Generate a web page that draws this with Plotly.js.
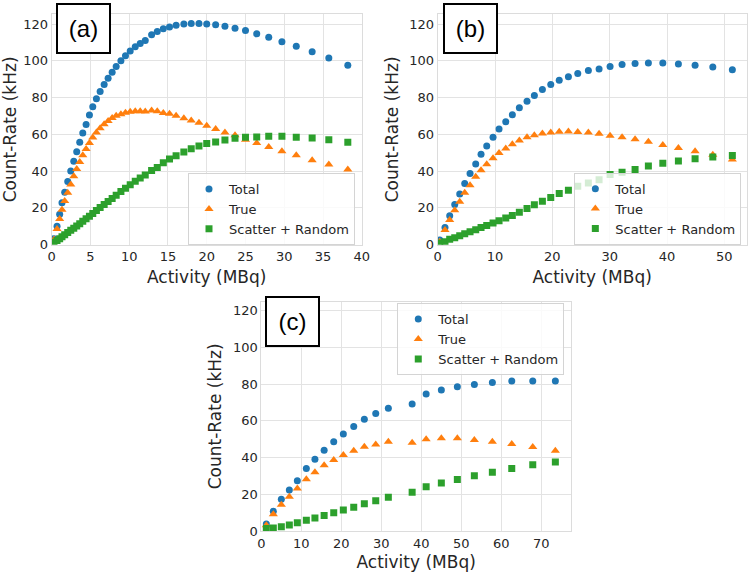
<!DOCTYPE html>
<html>
<head>
<meta charset="utf-8">
<script src="https://cdn.plot.ly/plotly-3.0.1.min.js"></script>
<style>
  body { margin: 0; background: #fff; }
  #chart { width: 749px; height: 572px; }
</style>
</head>
<body>
<div id="chart"></div>
<script>
// Panel (a)
let activityA = [0.30, 0.69, 1.03, 1.33, 1.68, 2.07, 2.46, 2.85, 3.23, 3.62,
    4.01, 4.44, 4.87, 5.30, 5.77, 6.25, 6.77, 7.28, 7.80, 8.32,
    8.93, 9.52, 10.13, 10.78, 11.42, 12.07, 12.89, 13.62, 14.40, 15.20,
    16.05, 17.05, 18.0, 19.0, 20.0, 21.15, 22.35, 23.65, 25.0, 26.45,
    28.0, 29.7, 31.55, 33.6, 35.75, 38.2];
let totalA = [3.3, 10.1, 16.5, 22.8, 28.6, 34.4, 40.1, 45.4, 50.6, 55.8,
    60.7, 65.4, 70.5, 75.0, 79.4, 83.3, 87.1, 90.5, 93.8, 96.9,
    100.1, 102.8, 105.4, 107.7, 109.5, 111.1, 114.2, 116.0, 117.5, 118.5,
    119.4, 120.1, 120.3, 120.4, 120.1, 119.6, 118.8, 117.8, 116.5, 114.7,
    112.9, 110.4, 107.9, 105.0, 101.6, 97.6];
let trueA = [2.8, 8.6, 14.0, 19.0, 23.8, 28.3, 32.8, 37.2, 41.2, 45.0,
    48.7, 52.0, 55.3, 58.3, 61.0, 63.4, 65.5, 67.3, 68.9, 70.1,
    71.0, 71.8, 72.3, 72.6, 72.6, 72.4, 73.0, 72.6, 71.6, 71.2,
    70.1, 68.8, 67.6, 66.3, 64.7, 62.9, 61.1, 59.5, 57.1, 55.3,
    53.1, 50.8, 48.6, 45.9, 43.6, 40.9];
let scatterA = [1.3, 2.3, 3.3, 4.3, 5.4, 6.6, 7.8, 9.0, 10.2, 11.4,
    12.7, 14.1, 15.5, 17.0, 18.6, 20.2, 21.9, 23.5, 25.2, 26.9,
    28.9, 30.7, 32.6, 34.5, 36.3, 37.9, 40.3, 42.0, 44.6, 46.6,
    48.4, 50.4, 52.2, 53.7, 55.0, 55.9, 56.9, 57.9, 58.4, 58.6,
    59.0, 59.0, 58.5, 58.0, 57.1, 55.8];

// Panel (b)
let activityB = [0.35, 1.27, 2.09, 2.97, 3.84, 4.71, 5.64, 6.63, 7.56, 8.55,
    9.65, 10.7, 11.87, 13.02, 14.24, 15.58, 16.86, 18.26, 19.72, 21.2,
    22.8, 24.43, 26.28, 28.15, 30.07, 32.16, 34.43, 36.75, 39.27, 41.99,
    44.9, 47.99, 51.4];
let totalB = [2.5, 9.4, 15.7, 21.9, 27.6, 33.3, 38.7, 43.9, 49.2, 53.7,
    58.5, 62.9, 66.9, 70.7, 74.5, 78.0, 81.1, 84.4, 87.1, 89.4,
    91.4, 93.2, 94.7, 95.6, 97.0, 98.1, 98.6, 98.9, 98.9, 98.3,
    97.6, 96.7, 95.2];
let trueB = [1.6, 8.0, 13.4, 18.8, 23.3, 28.2, 32.4, 36.9, 40.5, 43.7,
    47.0, 49.9, 52.4, 54.6, 56.7, 58.4, 59.6, 60.5, 61.1, 61.5,
    61.6, 61.3, 61.1, 60.4, 59.3, 58.4, 57.3, 56.0, 54.2, 52.6,
    50.8, 49.0, 46.4];
let scatterB = [0.9, 1.6, 2.9, 3.8, 4.9, 6.0, 7.0, 8.1, 9.4, 10.5,
    11.8, 13.0, 14.5, 15.9, 17.7, 19.7, 21.7, 23.7, 25.7, 27.9,
    29.6, 31.8, 33.6, 35.4, 38.2, 39.4, 40.9, 42.8, 44.3, 45.5,
    46.8, 47.7, 48.5];

// Panel (c)
let activityC = [1.25, 3.0, 5.0, 7.0, 9.0, 11.25, 13.4, 15.7, 18.1, 20.5,
    23.1, 25.75, 28.6, 31.75, 37.7, 41.2, 45.0, 49.0, 53.25, 57.75,
    62.6, 67.85, 73.5];
let totalC = [3.8, 10.7, 17.3, 22.3, 27.4, 34.0, 39.1, 44.0, 48.7, 52.9,
    56.9, 60.9, 64.1, 66.9, 69.2, 74.7, 76.8, 78.6, 79.9, 81.0,
    81.7, 81.7, 81.7];
let trueC = [3.1, 9.1, 14.3, 18.7, 23.1, 28.2, 32.0, 35.8, 38.7, 41.4,
    43.8, 45.9, 47.2, 48.7, 48.1, 50.0, 50.5, 50.5, 49.6, 48.7,
    47.4, 45.8, 43.8];
let scatterC = [1.3, 1.6, 2.3, 3.3, 4.5, 5.8, 7.1, 8.4, 10.0, 11.4,
    12.9, 14.9, 16.5, 18.4, 21.1, 24.1, 26.2, 28.0, 30.1, 32.0,
    34.0, 36.1, 37.6];

let seriesNames = ["Total", "True", "Scatter + Random"];
let panelLabels = ["(a)", "(b)", "(c)"];

let colors = ["#1f77b4", "#ff7f0e", "#2ca02c"];
let symbols = ["circle", "triangle-up", "square"];
let sizes = [7, 8, 7];
let textColor = "#262626";
let font = "DejaVu Sans, sans-serif";

// three scatter traces per panel
function panelTraces(x, ys, xa, ya, legendId) {
    return ys.map((y, i) => ({
        x: x,
        y: y,
        xaxis: xa,
        yaxis: ya,
        legend: legendId,
        type: 'scatter',
        mode: 'markers',
        name: seriesNames[i],
        marker: { color: colors[i], symbol: symbols[i], size: sizes[i], line: { width: 0 } }
    }));
}

let data = [].concat(
    panelTraces(activityA, [totalA, trueA, scatterA], 'x', 'y', 'legend'),
    panelTraces(activityB, [totalB, trueB, scatterB], 'x2', 'y2', 'legend2'),
    panelTraces(activityC, [totalC, trueC, scatterC], 'x3', 'y3', 'legend3')
);

function xAxis(domain, range, dtick, anchor) {
    return {
        domain: domain, range: range, dtick: dtick, anchor: anchor,
        showgrid: true, gridcolor: '#e3e3e3', gridwidth: 1,
        showline: true, linecolor: '#dcdcdc', linewidth: 1, mirror: true,
        zeroline: false, ticks: '', automargin: false,
        tickfont: { family: font, size: 13, color: textColor },
        title: { text: 'Activity (MBq)', font: { family: font, size: 17, color: textColor }, standoff: 7 }
    };
}

function yAxis(domain, anchor) {
    return {
        domain: domain, range: [0, 125.5], dtick: 20, anchor: anchor,
        showgrid: true, gridcolor: '#e3e3e3', gridwidth: 1,
        showline: true, linecolor: '#dcdcdc', linewidth: 1, mirror: true,
        zeroline: false, ticks: '', automargin: false,
        tickfont: { family: font, size: 13, color: textColor },
        title: { text: 'Count-Rate (kHz)', font: { family: font, size: 17, color: textColor }, standoff: 6 }
    };
}

function legendBox(x, y) {
    return {
        x: x, y: y, xanchor: 'left', yanchor: 'top',
        bgcolor: 'rgba(255,255,255,0.8)', bordercolor: '#d4d4d4', borderwidth: 1,
        font: { family: font, size: 13, color: textColor }
    };
}

function labelBox(text, x, y) {
    return {
        text: text, x: x, y: y, xref: 'paper', yref: 'paper',
        xanchor: 'center', yanchor: 'middle', showarrow: false,
        width: 51, height: 47, borderpad: 0,
        bordercolor: '#000', borderwidth: 2, bgcolor: '#fff',
        font: { family: 'Liberation Sans, Arial, sans-serif', size: 24, color: '#000' }
    };
}

let layout = {
    width: 749,
    height: 572,
    margin: { l: 0, r: 0, t: 0, b: 0 },
    paper_bgcolor: '#fff',
    plot_bgcolor: '#fff',
    showlegend: true,
    xaxis: xAxis([0.069, 0.483], [0, 40], 5, 'y'),
    yaxis: yAxis([0.5722, 0.9755], 'x'),
    xaxis2: xAxis([0.5844, 0.9969], [0, 53.9], 10, 'y2'),
    yaxis2: yAxis([0.5722, 0.9755], 'x2'),
    xaxis3: xAxis([0.3489, 0.7623], [0, 77.4], 10, 'y3'),
    yaxis3: Object.assign(yAxis([0.0717, 0.4726], 'x3'), { range: [0, 125] }),
    legend: legendBox(0.251, 0.6975),
    legend2: legendBox(0.7668, 0.6980),
    legend3: legendBox(0.5304, 0.470),
    annotations: [
        labelBox(panelLabels[0], 0.1112, 0.9498),
        labelBox(panelLabels[1], 0.6288, 0.9498),
        labelBox(panelLabels[2], 0.3899, 0.4388)
    ]
};

Plotly.newPlot('chart', data, layout, { displayModeBar: false });
</script>
</body>
</html>
